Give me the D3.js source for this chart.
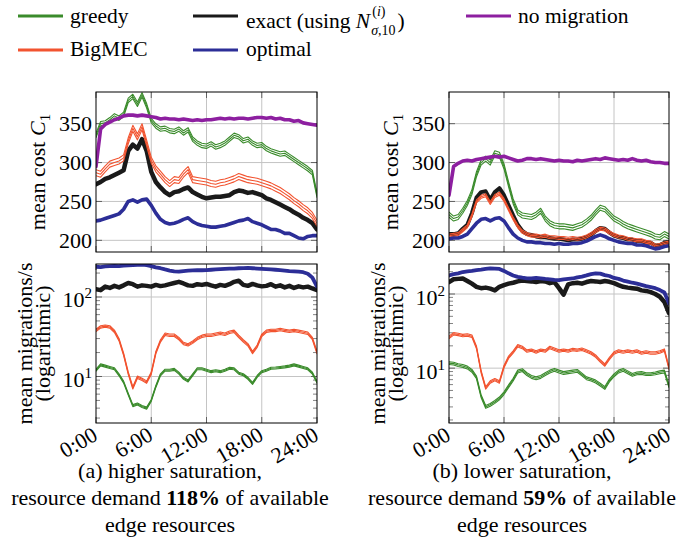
<!DOCTYPE html>
<html><head><meta charset="utf-8">
<script src="https://cdn.jsdelivr.net/npm/d3@7"></script>
<style>
text, tspan { font-family: "Liberation Serif" !important; }
</style>
</head><body style="margin:0">
<svg id="c" width="699" height="540"></svg>
<script>
// data, 30-minute samples 0:00..24:00
const times = d3.range(0, 24.5, 0.5);
const xTickHours = [0, 6, 12, 18, 24];
const xTickLabels = ["0:00", "6:00", "12:00", "18:00", "24:00"];
const costTicks = [200, 250, 300, 350];
const logTicks = [10, 100];

// (a) higher saturation: mean cost C1
const greedyCostA = [335,350,351,355,360,357,362,380,385,375,387,373,354,347,343,344,341,340,343,338,342,330,325,322,321,324,320,322,325,330,335,333,328,330,325,322,323,318,315,313,311,312,308,304,300,296,292,287,258];
const bigmecCostA = [287,285,292,298,300,302,306,328,344,333,346,325,303,292,285,278,273,278,277,285,291,278,277,276,275,273,272,274,275,277,279,282,280,278,277,276,274,272,270,267,264,260,256,251,247,242,238,232,222];
const exactCostA = [272,275,279,281,284,287,290,315,323,318,330,315,288,275,268,262,258,262,263,266,268,262,259,256,254,255,256,256,257,258,262,264,263,261,262,260,258,254,252,249,246,243,240,236,233,229,226,222,214];
const optimalCostA = [225,226,228,230,232,234,240,250,252,249,252,253,245,235,227,223,221,222,224,227,229,224,221,219,218,217,217,218,219,221,223,225,226,228,224,222,220,217,214,214,212,209,209,206,203,202,205,206,206];
const noMigCostA = [295,343,349,352,355,357,360,361,361,360,361,360,359,358,356,357,356,356,355,356,355,354,355,354,355,355,356,357,356,357,356,357,357,356,357,358,358,357,358,356,357,355,355,353,354,351,350,349,348];

// (b) lower saturation: mean cost C1
const greedyCostB = [233,228,230,238,248,262,285,300,305,300,312,310,295,272,250,236,232,231,230,233,238,228,222,219,218,218,217,216,218,220,224,229,236,242,240,234,228,225,221,218,216,214,212,210,208,205,204,208,205];
const bigmecCostB = [206,207,208,213,218,232,250,256,258,248,257,260,252,240,228,218,211,208,206,206,205,206,204,204,203,203,202,203,202,203,205,208,212,215,214,210,207,205,204,202,201,200,200,198,197,193,194,196,197];
const exactCostB = [208,208,209,215,220,235,255,262,263,252,262,267,258,245,232,220,212,208,207,205,204,204,203,202,202,201,200,201,201,202,204,207,212,216,215,210,206,204,203,201,201,199,199,197,197,193,194,197,198];
const optimalCostB = [202,203,203,205,208,215,222,227,228,225,228,229,225,216,208,203,200,198,198,197,197,196,196,195,196,195,195,196,196,197,199,202,205,207,205,202,200,198,197,196,196,194,194,193,191,189,190,192,193];
const noMigCostB = [258,295,299,302,303,302,304,305,306,307,308,307,308,306,304,302,303,305,305,304,305,304,303,302,303,302,302,301,303,302,303,304,305,304,306,305,304,303,304,303,305,303,302,303,301,300,300,299,299];

// (a) higher saturation: mean migrations/s
const greedyMigA = [12,14,13.5,13,12.5,10.5,8.5,6,4.3,4.5,4.2,4.0,5,7.5,10.5,12,12,12.3,11,9.5,8.8,10.5,12.5,12.5,12,11.5,11.8,11.5,12,12.7,12.5,11,10.5,9.5,8.2,10,11.5,12,12.7,12.8,13,13.2,13.5,14,13.5,13,12.5,11,8.5];
const bigmecMigA = [38,42,43,42,37,29,19,11,7.2,9.8,9.2,8.5,11,20,28,34,33,33,30,26,25,27,30,32,33,33,34,35,34,36,37,32,28,25,20,24,33,37,38,38,39,38,37,38,37,36,35,30,20];
const exactMigA = [125,122,135,130,138,132,140,150,145,135,140,138,135,142,137,140,145,150,155,148,140,138,145,142,146,140,135,142,138,145,155,160,142,138,146,140,136,138,145,135,140,132,138,130,136,132,135,128,122];
const optimalMigA = [240,238,242,244,246,245,248,250,252,254,255,252,245,236,230,222,215,210,208,212,214,216,218,217,218,220,222,224,226,228,228,230,231,232,230,228,226,224,222,220,218,215,212,210,208,205,196,175,135];

// (b) lower saturation: mean migrations/s
const greedyMigB = [11.7,11.5,11,10.7,10.2,9.2,7.5,4.2,3.0,3.2,3.5,3.9,4.6,5.7,7,9,9.4,8.3,7.6,7.3,7.6,8.3,9,9.5,9,8.6,8.8,9,9.2,8.2,7.3,7.0,6.6,6,5.4,6.8,8,9,9.5,8.8,8.1,8.5,8.6,8.3,8.3,8.5,8.8,9,5.7];
const bigmecMigB = [26,29,28.5,27.5,28,27,19,9,5.4,6.5,7,6.5,10.5,14,16.5,20,19,17,17.5,16.5,17.5,17,19,18,17,17.5,17,17.8,17.5,18,17,16,14.5,12.5,11,13.5,16,17,16.5,17,16.5,17,16,16.5,16,16,16.5,17.5,10];
const exactMigB = [145,158,160,162,150,138,125,120,122,118,112,125,132,138,142,148,152,150,148,145,150,148,140,145,120,98,135,140,142,138,145,150,148,145,150,146,140,132,125,122,120,118,112,110,106,100,92,78,55];
const optimalMigB = [178,185,190,198,202,205,210,213,218,222,220,218,205,190,178,170,166,163,162,165,163,160,158,155,154,158,160,162,168,172,178,185,190,188,180,175,165,160,152,147,142,138,133,128,124,120,113,105,75];

const legendKeys = ["greedy", "exact", "nomig", "bigmec", "optimal"];
const legendLabels = {greedy:"greedy", bigmec:"BigMEC", exact:"exact (using ", optimal:"optimal", nomig:"no migration"};
const captionA = ["(a) higher saturation,", ["resource demand ", "118%", " of available"], "edge resources"];
const captionB = ["(b) lower saturation,", ["resource demand ", "59%", " of available"], "edge resources"];

const F = '"Liberation Serif"';
const colors = {greedy:"#3a8b2b", bigmec:"#f2532f", exact:"#1a1a1a", optimal:"#2c2e97", nomig:"#8d1fa0"};
const svg = d3.select("#c");
const FS = "22px";
function txt(sel, size) { return sel.append("text").attr("font-family", "Liberation Serif").style("font-family", F).style("font-size", size); }

const panels = [
  {left:96, right:317, top:92, bottom:252, kind:"cost", domain:[185, 390.7], xlabels:false,
   series:[["greedy",greedyCostA,1.1,2.2],["exact",exactCostA,4.5,0],["nomig",noMigCostA,3.6,0],["bigmec",bigmecCostA,1.1,3],["optimal",optimalCostA,3.6,0]]},
  {left:449, right:669, top:92, bottom:252, kind:"cost", domain:[185, 390.7], xlabels:false,
   series:[["greedy",greedyCostB,1.1,2.5],["exact",exactCostB,4,0],["nomig",noMigCostB,3.6,0],["bigmec",bigmecCostB,1.1,1.5],["optimal",optimalCostB,3.6,0]]},
  {left:96, right:317, top:264, bottom:423, kind:"log", domain:[2.6, 260], xlabels:true,
   series:[["greedy",greedyMigA,1.1,1],["exact",exactMigA,4.5,0],["bigmec",bigmecMigA,1.1,1.2],["optimal",optimalMigA,3.8,0]]},
  {left:449, right:669, top:264, bottom:423, kind:"log", domain:[1.82, 254], xlabels:true,
   series:[["greedy",greedyMigB,1.1,1.4],["exact",exactMigB,4.5,0],["bigmec",bigmecMigB,1.1,1.2],["optimal",optimalMigB,3.8,0]]}
];

panels.forEach((p, pi) => {
  const x = d3.scaleLinear().domain([0, 24]).range([p.left, p.right]);
  const y = (p.kind === "cost" ? d3.scaleLinear() : d3.scaleLog()).domain(p.domain).range([p.bottom, p.top]);
  const clipId = "clip" + pi;
  svg.append("clipPath").attr("id", clipId).append("rect")
    .attr("x", p.left).attr("y", p.top).attr("width", p.right - p.left).attr("height", p.bottom - p.top);

  const yMajor = p.kind === "cost" ? costTicks : logTicks;
  xTickHours.slice(1, -1).forEach(d => svg.append("line")
    .attr("x1", x(d)).attr("x2", x(d)).attr("y1", p.top).attr("y2", p.bottom)
    .attr("stroke", "#c4c4c4").attr("stroke-width", 1));
  yMajor.forEach(d => svg.append("line")
    .attr("x1", p.left).attr("x2", p.right).attr("y1", y(d)).attr("y2", y(d))
    .attr("stroke", "#c4c4c4").attr("stroke-width", 1));

  if (p.kind === "log") {
    const minors = [];
    [1, 10, 100].forEach(dec => { for (let k = 2; k <= 9; k++) { const v = k * dec; if (v >= p.domain[0] && v <= p.domain[1]) minors.push(v); } });
    [[p.left, 1], [p.right, -1]].forEach(([x0, s]) => {
      minors.forEach(d => svg.append("line")
        .attr("x1", x0).attr("x2", x0 + s * 4).attr("y1", y(d)).attr("y2", y(d))
        .attr("stroke", "#666").attr("stroke-width", 0.8));
    });
  }
  [[p.left, 1], [p.right, -1]].forEach(([x0, s]) => {
    yMajor.forEach(d => svg.append("line")
      .attr("x1", x0).attr("x2", x0 + s * 6).attr("y1", y(d)).attr("y2", y(d))
      .attr("stroke", "#555").attr("stroke-width", 0.9));
  });
  [[p.bottom, -1], [p.top, 1]].forEach(([y0, s]) => {
    xTickHours.forEach(d => svg.append("line")
      .attr("x1", x(d)).attr("x2", x(d)).attr("y1", y0).attr("y2", y0 + s * 6)
      .attr("stroke", "#555").attr("stroke-width", 0.9));
  });

  const line = d3.line().x((d, i) => x(times[i])).y(d => y(d));
  const sg = svg.append("g").attr("clip-path", `url(#${clipId})`);
  p.series.forEach(([key, vals, w, spread]) => {
    const offs = spread > 0 ? [-spread, 0, spread] : [0];
    offs.forEach(o => {
      sg.append("path").datum(vals).attr("d", line)
        .attr("transform", `translate(0,${o})`)
        .attr("fill", "none").attr("stroke", colors[key]).attr("stroke-width", w)
        .attr("stroke-linejoin", "round").attr("stroke-linecap", "round");
    });
  });

  svg.append("rect").attr("x", p.left).attr("y", p.top).attr("width", p.right - p.left).attr("height", p.bottom - p.top)
    .attr("fill", "none").attr("stroke", "#000").attr("stroke-width", 1);

  if (p.kind === "cost") {
    costTicks.forEach(v => {
      txt(svg, FS).attr("x", p.left - 4).attr("y", y(v) + 7.5).attr("text-anchor", "end").text(v);
    });
    const t = txt(svg, FS).attr("transform", `translate(${p.left - 51},${(p.top + p.bottom) / 2}) rotate(-90)`)
      .attr("text-anchor", "middle");
    t.append("tspan").text("mean cost ");
    t.append("tspan").style("font-style", "italic").text("C");
    t.append("tspan").attr("dy", 5).style("font-size", "15px").text("1");
  } else {
    logTicks.forEach(v => {
      const t = txt(svg, FS).attr("x", p.left - 4).attr("y", y(v) + 10.5).attr("text-anchor", "end");
      t.append("tspan").text("10");
      t.append("tspan").attr("dy", -9).style("font-size", "15px").text(Math.round(Math.log10(v)));
    });
    const cy = (p.top + p.bottom) / 2;
    txt(svg, FS).attr("transform", `translate(${p.left - 64},${cy}) rotate(-90)`)
      .attr("text-anchor", "middle").text("mean migrations/s");
    txt(svg, FS).attr("transform", `translate(${p.left - 46},${cy}) rotate(-90)`)
      .attr("text-anchor", "middle").text("(logarithmic)");
  }

  if (p.xlabels) {
    xTickHours.forEach((d, i) => {
      txt(svg, FS).attr("transform", `translate(${x(d) + 3},${p.bottom + 16}) rotate(-30)`)
        .attr("text-anchor", "end").text(xTickLabels[i]);
    });
  }
});

[[captionA, 170], [captionB, 522]].forEach(([cap, cx]) => {
  const base = [478, 505, 532];
  txt(svg, FS).attr("x", cx).attr("y", base[0]).attr("text-anchor", "middle").text(cap[0]);
  const t = txt(svg, FS).attr("x", cx).attr("y", base[1]).attr("text-anchor", "middle");
  t.append("tspan").text(cap[1][0]);
  t.append("tspan").style("font-weight", "bold").text(cap[1][1]);
  t.append("tspan").text(cap[1][2]);
  txt(svg, FS).attr("x", cx).attr("y", base[2]).attr("text-anchor", "middle").text(cap[2]);
});

const legendPos = {
  greedy:{lx:18, ly:16, tx:70, ty:23},
  exact:{lx:193, ly:16, tx:246, ty:28},
  nomig:{lx:466, ly:16, tx:518, ty:23},
  bigmec:{lx:18, ly:50, tx:70, ty:56},
  optimal:{lx:193, ly:50, tx:246, ty:56}
};
legendKeys.forEach(k => {
  const pp = legendPos[k];
  svg.append("line").attr("x1", pp.lx).attr("x2", pp.lx + 45).attr("y1", pp.ly).attr("y2", pp.ly)
    .attr("stroke", colors[k]).attr("stroke-width", 3.2);
  const t = txt(svg, "21.5px").attr("x", pp.tx).attr("y", pp.ty);
  t.append("tspan").text(legendLabels[k]);
  if (k === "exact") {
    t.append("tspan").style("font-style", "italic").text("N");
    const endX = pp.tx + t.node().getComputedTextLength();
    const sup = txt(svg, "14px").attr("x", endX + 2).attr("y", pp.ty - 12);
    sup.append("tspan").text("(");
    sup.append("tspan").style("font-style", "italic").text("i");
    sup.append("tspan").text(")");
    const sub = txt(svg, "14px").attr("x", endX + 1).attr("y", pp.ty + 7);
    sub.append("tspan").style("font-style", "italic").text("\u03C3");
    sub.append("tspan").text(",10");
    const subW = sub.node().getComputedTextLength();
    txt(svg, "21.5px").attr("x", endX + subW + 3).attr("y", pp.ty).text(")");
  }
});
</script>
</body></html>
